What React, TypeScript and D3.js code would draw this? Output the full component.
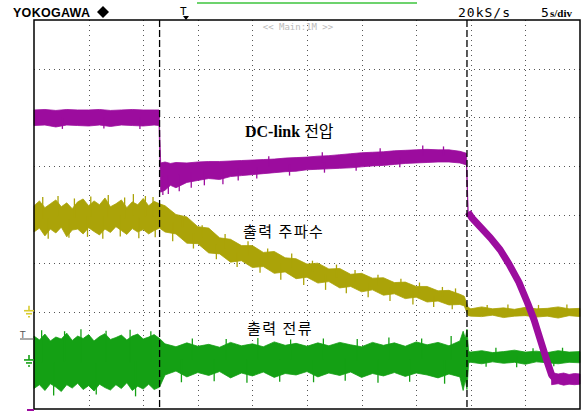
import * as d3 from 'd3';

// time axis: 10 div x 5 s/div; vertical values are in screen divisions (-4..4)
const xTicks = [5, 10, 15, 20, 25, 30, 35, 40, 45];
const yTicks = [-3, -2, -1, 0, 1, 2, 3];
const cursors = [11.5, 39.65];

// DC-link voltage (purple) band before the final fall
const purpleT = [0, 1, 2, 3, 4, 5, 6, 7, 8, 9, 10, 11, 11.45, 11.6, 12, 12.5, 13, 14, 15, 16, 17, 18, 19, 20, 21, 22, 23, 24, 25, 26, 27, 28, 29, 30, 31, 32, 33, 34, 35, 36, 37, 38, 39, 39.6, 39.75];
const purpleHi = [2.15, 2.16, 2.14, 2.16, 2.15, 2.15, 2.16, 2.14, 2.15, 2.16, 2.15, 2.15, 2.15, 1.06, 1.08, 1.05, 1.07, 1.06, 1.08, 1.09, 1.09, 1.1, 1.11, 1.12, 1.13, 1.14, 1.16, 1.17, 1.18, 1.2, 1.21, 1.23, 1.25, 1.27, 1.28, 1.29, 1.31, 1.32, 1.33, 1.34, 1.33, 1.33, 1.3, 1.26, 0.12];
const purpleLo = [1.83, 1.84, 1.8, 1.84, 1.83, 1.82, 1.84, 1.81, 1.84, 1.83, 1.82, 1.84, 1.83, 0.46, 0.5, 0.6, 0.55, 0.66, 0.7, 0.74, 0.72, 0.78, 0.8, 0.82, 0.84, 0.86, 0.88, 0.89, 0.92, 0.93, 0.94, 0.95, 0.96, 0.98, 1.0, 1.01, 1.03, 1.05, 1.06, 1.07, 1.08, 1.08, 1.06, 1.02, -0.04];
const purpleSpikes = [[11.8, 0.4], [12.3, 0.42], [13.3, 0.48], [14.4, 0.55], [15.6, 0.6], [17.3, 0.62], [18.7, 0.7], [20.4, 0.74], [23.4, 0.8], [26.6, 0.86], [29.5, 0.9], [33.5, 0.97], [21.5, 1.2], [26.4, 1.28], [31.7, 1.36], [35.6, 1.42], [37.5, 1.4], [2.6, 1.76], [6.4, 1.77], [9.7, 1.76]];
// purple fall after the second cursor
const fallT = [39.75, 40.1, 40.8, 41.8, 42.7, 43.5, 44.4, 45.2, 45.8, 46.4, 47.0, 47.4, 47.7];
const fallV = [0.05, -0.07, -0.24, -0.48, -0.73, -1.02, -1.39, -1.82, -2.17, -2.6, -3.03, -3.3, -3.38];
const purpleEndT = [47.4, 48, 48.5, 49, 49.5, 50];
const purpleEndHi = [-3.25, -3.28, -3.26, -3.29, -3.27, -3.28];
const purpleEndLo = [-3.5, -3.48, -3.51, -3.49, -3.5, -3.49];

// output frequency (yellow)
const yellowT = [0, 0.5, 1, 1.5, 2, 2.5, 3, 3.5, 4, 4.5, 5, 5.5, 6, 6.5, 7, 7.5, 8, 8.5, 9, 9.5, 10, 10.5, 11, 11.5, 12, 13, 14, 15, 16, 17, 18, 19, 20, 21, 22, 23, 24, 25, 26, 27, 28, 29, 30, 31, 32, 33, 34, 35, 36, 37, 38, 39, 39.4, 39.75, 40, 41, 42, 43, 44, 45, 46, 47, 48, 49, 50];
const yellowHi = [0.18, 0.28, 0.14, 0.22, 0.3, 0.16, 0.24, 0.12, 0.26, 0.32, 0.18, 0.28, 0.2, 0.34, 0.16, 0.22, 0.3, 0.14, 0.26, 0.2, 0.33, 0.18, 0.27, 0.22, 0.18, 0.0, -0.05, -0.25, -0.28, -0.48, -0.51, -0.64, -0.64, -0.78, -0.76, -0.89, -0.91, -1.02, -1.0, -1.12, -1.11, -1.23, -1.21, -1.31, -1.3, -1.4, -1.39, -1.48, -1.48, -1.57, -1.56, -1.64, -1.68, -1.91, -1.94, -1.9, -1.94, -1.92, -1.95, -1.91, -1.94, -1.93, -1.9, -1.94, -1.93];
const yellowLo = [-0.36, -0.28, -0.44, -0.3, -0.38, -0.26, -0.46, -0.32, -0.3, -0.4, -0.27, -0.35, -0.42, -0.3, -0.37, -0.25, -0.33, -0.41, -0.29, -0.36, -0.31, -0.4, -0.33, -0.28, -0.36, -0.4, -0.59, -0.6, -0.79, -0.81, -0.98, -0.95, -1.09, -1.07, -1.21, -1.18, -1.32, -1.29, -1.41, -1.38, -1.51, -1.48, -1.59, -1.55, -1.66, -1.63, -1.73, -1.7, -1.8, -1.78, -1.86, -1.85, -1.88, -2.08, -2.09, -2.1, -2.07, -2.12, -2.09, -2.08, -2.11, -2.09, -2.13, -2.08, -2.1];
const yellowSpikes = [[0.8, 0.36], [2.2, 0.38], [3.7, 0.33], [5.2, 0.37], [6.8, 0.4], [8.3, 0.35], [9.1, 0.42], [10.2, 0.38], [10.9, 0.36], [1.3, -0.5], [3.2, -0.48], [4.9, -0.46], [6.3, -0.5], [7.9, -0.45], [9.6, -0.49], [11.1, -0.47], [13.6, -0.05], [15.4, -0.22], [17.5, -0.4], [19.6, -0.55], [21.4, -0.7], [23.6, -0.8], [25.5, -0.95], [27.7, -1.03], [29.4, -1.14], [31.5, -1.24], [33.6, -1.32], [35.3, -1.4], [37.4, -1.49], [38.6, -1.52], [12.7, -0.55], [14.6, -0.7], [16.7, -0.92], [18.6, -1.08], [20.7, -1.2], [22.6, -1.34], [24.7, -1.45], [26.7, -1.55], [28.6, -1.62], [30.6, -1.7], [32.6, -1.78], [34.7, -1.85], [36.6, -1.9], [38.3, -1.95], [41.5, -1.86], [43.4, -1.85], [46.2, -1.86], [48.8, -1.85]];

// output current (green)
const greenT = [0, 0.5, 1, 1.5, 2, 2.5, 3, 3.5, 4, 4.5, 5, 5.5, 6, 6.5, 7, 7.5, 8, 8.5, 9, 9.5, 10, 10.5, 11, 11.5, 12, 13, 14, 15, 16, 17, 18, 19, 20, 21, 22, 23, 24, 25, 26, 27, 28, 29, 30, 31, 32, 33, 34, 35, 36, 37, 38, 39, 39.3, 39.5, 39.65, 39.8, 40, 41, 42, 43, 44, 45, 46, 47, 48, 49, 50];
const greenHi = [-2.5, -2.58, -2.46, -2.6, -2.52, -2.56, -2.44, -2.59, -2.5, -2.55, -2.47, -2.6, -2.51, -2.45, -2.57, -2.53, -2.48, -2.58, -2.5, -2.46, -2.56, -2.52, -2.47, -2.55, -2.66, -2.72, -2.64, -2.71, -2.67, -2.73, -2.63, -2.7, -2.66, -2.72, -2.62, -2.69, -2.65, -2.71, -2.64, -2.7, -2.63, -2.68, -2.72, -2.63, -2.69, -2.64, -2.71, -2.62, -2.68, -2.63, -2.7, -2.6, -2.4, -2.55, -2.36, -2.82, -2.83, -2.8, -2.84, -2.82, -2.79, -2.83, -2.81, -2.84, -2.8, -2.83, -2.82];
const greenLo = [-3.58, -3.5, -3.62, -3.48, -3.55, -3.64, -3.5, -3.57, -3.47, -3.6, -3.52, -3.63, -3.49, -3.56, -3.61, -3.5, -3.58, -3.46, -3.62, -3.53, -3.59, -3.49, -3.6, -3.55, -3.3, -3.22, -3.34, -3.25, -3.31, -3.23, -3.36, -3.26, -3.32, -3.24, -3.35, -3.27, -3.3, -3.23, -3.34, -3.26, -3.31, -3.24, -3.35, -3.27, -3.32, -3.25, -3.33, -3.26, -3.3, -3.36, -3.28, -3.34, -3.62, -3.4, -3.6, -3.05, -3.04, -3.07, -3.03, -3.06, -3.04, -3.08, -3.03, -3.05, -3.07, -3.04, -3.05];
const greenSpikes = [[0.7, -2.38], [2.8, -2.4], [4.3, -2.36], [6.6, -2.39], [8.8, -2.37], [10.7, -2.4], [1.8, -3.72], [5.7, -3.7], [9.3, -3.74], [14.5, -2.55], [17.6, -2.56], [20.5, -2.54], [23.5, -2.57], [26.5, -2.55], [29.6, -2.56], [32.5, -2.53], [35.5, -2.55], [38.2, -2.5], [13.5, -3.45], [16.5, -3.43], [19.5, -3.46], [22.5, -3.44], [25.6, -3.45], [28.5, -3.42], [31.5, -3.46], [34.4, -3.44], [37.6, -3.48], [42.3, -2.74], [45.7, -2.75], [48.4, -2.74], [41.4, -3.13], [44.2, -3.14], [47.6, -3.12]];

const PURPLE = '#9c0c9e';
const YELLOW = '#aba308';
const GREEN = '#14a014';

const W = 586;
const H = 411;

const x = d3.scaleLinear().domain([0, 50]).range([34, 580]);
const y = d3.scaleLinear().domain([-4, 4]).range([409, 20]);

const band = (t: number[], hi: number[], lo: number[]) =>
  d3.area<number>()
    .x((_, i) => x(t[i]))
    .y0((_, i) => y(lo[i]))
    .y1((_, i) => y(hi[i]))(t) || '';

// middle of a band at any time, to hang the noise spikes from
const mid = (t: number[], hi: number[], lo: number[]) =>
  d3.scaleLinear().domain(t).range(t.map((_, i) => (hi[i] + lo[i]) / 2)).clamp(true);

const spikes = (s: number[][], m: d3.ScaleLinear<number, number>, color: string) => (
  <g stroke={color} strokeWidth={1.3}>
    {s.map(([t, v], i) => (
      <line key={i} x1={x(t)} x2={x(t)} y1={y(m(t))} y2={y(v)} />
    ))}
  </g>
);

const line = d3.line<number>().x((_, i) => x(fallT[i])).y((d) => y(d));

const ground = (cx: number, cy: number, color: string) => (
  <g stroke={color} strokeWidth={1.6}>
    <line x1={cx} y1={cy - 5} x2={cx} y2={cy} />
    <line x1={cx - 5} y1={cy} x2={cx + 5} y2={cy} />
    <line x1={cx - 3} y1={cy + 3} x2={cx + 3} y2={cy + 3} />
    <line x1={cx - 1} y1={cy + 6} x2={cx + 1} y2={cy + 6} />
  </g>
);

export default function App() {
  const yMid = mid(yellowT, yellowHi, yellowLo);
  const gMid = mid(greenT, greenHi, greenLo);
  const pMid = mid(purpleT, purpleHi, purpleLo);
  return (
    <svg width={W} height={H} style={{ position: 'absolute', left: 0, top: 0, background: '#fff' }}>
      {/* header */}
      <text x={13} y={17} fontFamily="Liberation Sans, Arial, sans-serif" fontWeight="bold" fontSize={12.5} textLength={77}>YOKOGAWA</text>
      <path d="M103,6 L109,12 L103,18 L97,12 Z" fill="#000" />
      <text x={180} y={15} fontFamily="DejaVu Sans Mono, monospace" fontSize={11}>T</text>
      <path d="M183,16 L189,16 L186,20 Z" fill="#000" />
      <line x1={197} y1={3} x2={417} y2={3} stroke="#3cc43c" strokeWidth={1.5} />
      <text x={458} y={17} fontFamily="DejaVu Sans Mono, monospace" fontSize={13} textLength={52}>20kS/s</text>
      <text x={541} y={17} fontFamily="DejaVu Sans Mono, monospace" fontSize={13}>5</text>
      <text x={550} y={17} fontFamily="Liberation Serif, serif" fontWeight="bold" fontSize={11}>s/div</text>

      {/* grid */}
      <g stroke="#555" strokeWidth={1} strokeDasharray="1 4">
        {xTicks.map((t) => (
          <line key={'vx' + t} x1={Math.round(x(t)) + 0.5} y1={20} x2={Math.round(x(t)) + 0.5} y2={409} />
        ))}
        {yTicks.map((v) => (
          <line key={'hy' + v} x1={34} y1={Math.round(y(v)) + 0.5} x2={580} y2={Math.round(y(v)) + 0.5} />
        ))}
      </g>
      <text x={298} y={30} textAnchor="middle" fontFamily="DejaVu Sans Mono, monospace" fontSize={9} fill="#bbb">{'<< Main:1M >>'}</text>

      {/* traces */}
      <path d={band(yellowT, yellowHi, yellowLo)} fill={YELLOW} stroke={YELLOW} strokeWidth={0.8} />
      {spikes(yellowSpikes, yMid, YELLOW)}
      <path d={band(greenT, greenHi, greenLo)} fill={GREEN} stroke={GREEN} strokeWidth={0.8} />
      {spikes(greenSpikes, gMid, GREEN)}
      <path d={band(purpleT, purpleHi, purpleLo)} fill={PURPLE} stroke={PURPLE} strokeWidth={0.8} />
      {spikes(purpleSpikes, pMid, PURPLE)}
      <path d={line(fallV) || ''} fill="none" stroke={PURPLE} strokeWidth={7} strokeLinejoin="round" />
      <path d={band(purpleEndT, purpleEndHi, purpleEndLo)} fill={PURPLE} stroke={PURPLE} strokeWidth={0.8} />

      {/* cursors */}
      <g stroke="#000" strokeWidth={1.3} strokeDasharray="7 3">
        {cursors.map((c) => (
          <line key={'c' + c} x1={x(c)} y1={20} x2={x(c)} y2={409} />
        ))}
      </g>

      {/* frame */}
      <rect x={34} y={20} width={546} height={389} fill="none" stroke="#000" strokeWidth={1.5} />

      {/* left markers */}
      {ground(29, y(-2.02) - 2, '#d8cc30')}
      <text x={20} y={338} fontFamily="DejaVu Sans, sans-serif" fontSize={9} fill="#555">T</text>
      <line x1={20} y1={339} x2={34} y2={339} stroke="#555" strokeWidth={1} />
      {ground(29, y(-2.95) + 2, GREEN)}
      <line x1={27} y1={410} x2={34} y2={410} stroke={PURPLE} strokeWidth={2} />

      {/* labels */}
      <text x={245} y={137} fontSize={16}>
        <tspan fontFamily="Liberation Serif, serif" fontWeight="bold">DC-link </tspan>
        <tspan fontFamily="Noto Sans CJK KR, sans-serif">전압</tspan>
      </text>
      <text x={243} y={237} fontSize={15} letterSpacing={1.5} fontFamily="Noto Sans CJK KR, sans-serif">출력 주파수</text>
      <text x={247} y={334} fontSize={15} letterSpacing={1.5} fontFamily="Noto Sans CJK KR, sans-serif">출력 전류</text>
    </svg>
  );
}
